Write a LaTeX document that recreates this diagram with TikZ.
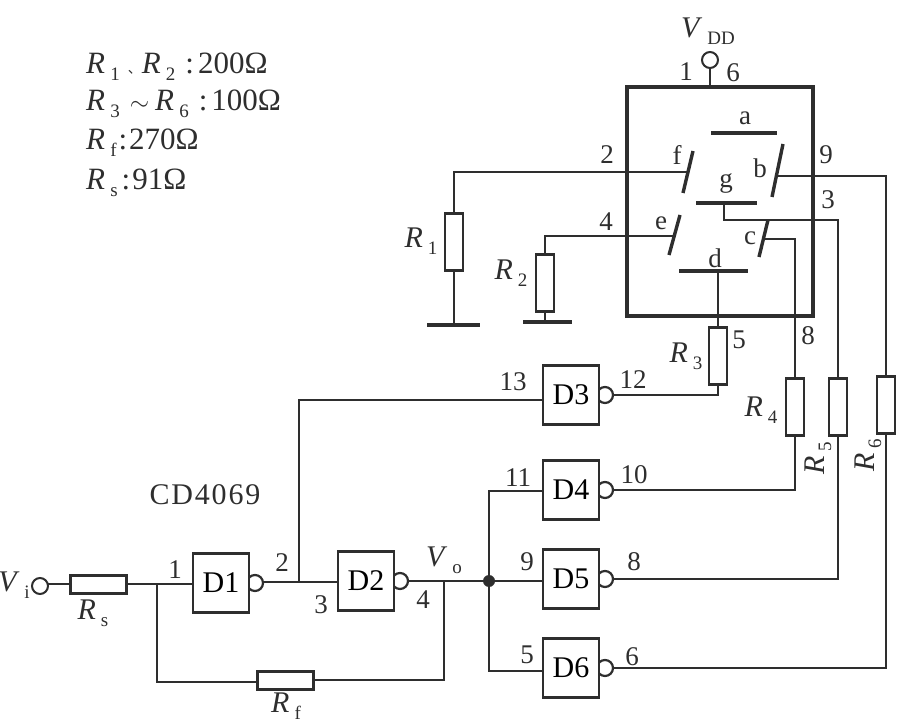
\documentclass[tikz,border=0pt]{standalone}
\usepackage{fontspec}
\setmainfont{Liberation Serif}
\newfontfamily\cjk{Noto Sans CJK SC}
\newfontfamily\wide[LetterSpace=6]{Liberation Serif}
\newcommand{\symb}[2]{\textit{#1}\,\raisebox{-0.22em}{\fontsize{19}{20}\selectfont #2}}
\definecolor{ink}{gray}{0.18}
\tikzset{
wire/.style={draw=ink, line width=1.7pt},
heavy/.style={draw=ink, line width=3.4pt},
seg/.style={draw=ink, line width=3.4pt},
gate/.style={draw=ink, fill=white, line width=2.6pt, minimum width=56pt, minimum height=59pt, inner sep=0pt, font=\fontsize{30}{32}\selectfont},
bubble/.style={circle, draw=ink, line width=2.2pt, minimum size=16pt, inner sep=0pt},
port/.style={circle, draw=ink, fill=white, line width=2pt, minimum size=16pt, inner sep=0pt},
resv/.style={draw=ink, line width=2.6pt, minimum width=18pt, minimum height=57pt, inner sep=0pt},
resh/.style={draw=ink, line width=3pt, minimum width=56pt, minimum height=18pt, inner sep=0pt},
txt/.style={text=ink, inner sep=0pt, font=\fontsize{30}{32}\selectfont},
pin/.style={text=ink, inner sep=0pt, font=\fontsize{27}{28}\selectfont},
note/.style={text=ink, inner sep=0pt, anchor=west, font=\fontsize{31}{34}\selectfont}
}
\begin{document}
\begin{tikzpicture}[x=1pt,y=-1pt]
\useasboundingbox (0,0) rectangle (898,722);
\node[note] (note1) at (86,67) {\symb{R}{1}\hspace{8pt}{\fontsize{14}{14}\selectfont\cjk 、}\symb{R}{2}\hspace{10pt}:\hspace{4pt}200Ω};
\node[note] (note2) at (86,104) {\symb{R}{3}\hspace{10pt}$\sim$\hspace{6pt}\symb{R}{6}\hspace{10pt}:\hspace{4pt}100Ω};
\node[note] (note3) at (86,143) {\symb{R}{f}\hspace{2pt}:\hspace{2pt}270Ω};
\node[note] (note4) at (86,183) {\symb{R}{s}\hspace{4pt}:\hspace{2pt}91Ω};

\node[port] (vdd) at (710,60) {};
\node[txt] (vddlab) at (708,31) {\symb{V}{DD}};
\node[pin] (p1) at (686,72) {1};
\node[pin] (p6) at (733,73) {6};
\node[minimum width=186pt, minimum height=229pt, heavy, inner sep=0pt] (disp) at (720,201.5) {};
\draw[wire] (vdd) -- (vdd |- disp.north);

\draw[seg] (711,133) -- (777,133);
\draw[seg] (683,193) -- (693,151);
\draw[seg] (772,197) -- (783,144);
\draw[seg] (696,203) -- (757,203);
\draw[seg] (669,255) -- (680,215);
\draw[seg] (759,257) -- (768,220);
\draw[seg] (679,271) -- (748,271);
\node[pin] (sa) at (745,118) {a};
\node[pin] (sb) at (760,168) {b};
\node[pin] (sc) at (750,238) {c};
\node[pin] (sd) at (715,258) {d};
\node[pin] (se) at (661,223) {e};
\node[pin] (sf) at (677,155) {f};
\node[pin] (sg) at (726,183) {g};
\coordinate (pinb) at (778,176);
\coordinate (pinc) at (765,239);
\coordinate (pind) at (718,271);
\coordinate (pine) at (674,236);
\coordinate (pinf) at (687,172);
\coordinate (ping) at (724,203);

\node[resv] (r1) at (454,242) {};
\node[resv] (r2) at (545,283) {};
\node[resv] (r3) at (718,356) {};
\node[resv] (r4) at (795,407) {};
\node[resv] (r5) at (838,407) {};
\node[resv] (r6) at (886,405) {};
\node[resh] (rs) at (98,584) {};
\node[resh] (rf) at (285,680) {};

\node[bubble] (b1) at (255,583) {};
\node[bubble] (b2) at (400,581) {};
\node[bubble] (b3) at (605,395) {};
\node[bubble] (b4) at (605,490) {};
\node[bubble] (b5) at (605,579) {};
\node[bubble] (b6) at (605,668) {};
\node[gate] (d1) at (221,583) {D1};
\node[gate] (d2) at (366,581) {D2};
\node[gate] (d3) at (571,395) {D3};
\node[gate] (d4) at (571,490) {D4};
\node[gate] (d5) at (571,579) {D5};
\node[gate] (d6) at (571,668) {D6};
\node[port] (vi) at (40,586) {};

\coordinate (gnd1) at (454,325);
\coordinate (gnd2) at (545,322);
\draw[seg] (427,325) -- (480,325);
\draw[seg] (523,322) -- (572,322);
\draw[wire] (pinf) -- (pinf -| r1) -- (r1.north);
\draw[wire] (r1.south) -- (gnd1);
\draw[wire] (pine) -- (pine -| r2) -- (r2.north);
\draw[wire] (r2.south) -- (gnd2);
\draw[wire] (pind) -- (r3.north);
\draw[wire] (r3.south) -- (r3 |- b3) -- (b3.east);
\draw[wire] (pinc) -- (pinc -| r4) -- (r4.north);
\draw[wire] (r4.south) -- (r4 |- b4) -- (b4.east);
\draw[wire] (ping) -- ++(0,17) -| (r5.north);
\draw[wire] (r5.south) -- (r5 |- b5) -- (b5.east);
\draw[wire] (pinb) -- (pinb -| r6) -- (r6.north);
\draw[wire] (r6.south) -- (r6 |- b6) -- (b6.east);

\coordinate (viout) at (48,584);
\draw[wire] (viout) -- (rs.west);
\coordinate (fbin) at (157,584);
\draw[wire] (rs.east) -- (d1.west |- rs);
\draw[wire] (fbin) -- (157,682) -- (rf.west |- 0,682);
\coordinate (split) at (299,582);
\draw[wire] (b1.east |- split) -- (d2.west |- split);
\draw[wire] (split) -- (299,400) -- (d3.west |- 0,400);
\coordinate (fbout) at (444,581);
\coordinate (hub) at (489,581);
\draw[wire] (b2.east) -- (d5.west |- hub);
\draw[wire] (fbout) -- (444,680) -- (rf.east);
\draw[wire] (d4.west |- 0,491) -- (489,491) -- (489,671) -- (d6.west |- 0,671);
\fill[ink] (hub) circle [radius=6];

\node[txt] (r1lab) at (421,241) {\symb{R}{1}};
\node[txt] (r2lab) at (511,273) {\symb{R}{2}};
\node[txt] (r3lab) at (686,356) {\symb{R}{3}};
\node[txt] (r4lab) at (761,410) {\symb{R}{4}};
\node[txt, rotate=90] (r5lab) at (818,458) {\symb{R}{5}};
\node[txt, rotate=90] (r6lab) at (868,455) {\symb{R}{6}};
\node[txt] (rslab) at (93,613) {\symb{R}{s}};
\node[txt] (rflab) at (286,706) {\symb{R}{f}};
\node[txt] (vilab) at (14,585) {\symb{V}{i}};
\node[txt] (volab) at (444,560) {\symb{V}{o}};
\node[txt] (chip) at (205,495) {\wide CD4069};

\node[pin] (p2) at (607,155) {2};
\node[pin] (p4) at (606,222) {4};
\node[pin] (p9) at (826,155) {9};
\node[pin] (p3) at (828,200) {3};
\node[pin] (p5) at (739,340) {5};
\node[pin] (p8) at (808,336) {8};
\node[pin] (g13) at (513,382) {13};
\node[pin] (g12) at (633,380) {12};
\node[pin] (g11) at (518,478) {11};
\node[pin] (g10) at (634,475) {10};
\node[pin] (g9) at (527,562) {9};
\node[pin] (g8) at (634,562) {8};
\node[pin] (g5) at (527,655) {5};
\node[pin] (g6) at (632,657) {6};
\node[pin] (g1) at (175,570) {1};
\node[pin] (g2) at (282,563) {2};
\node[pin] (g3) at (321,605) {3};
\node[pin] (g4) at (423,600) {4};
\end{tikzpicture}
\end{document}
